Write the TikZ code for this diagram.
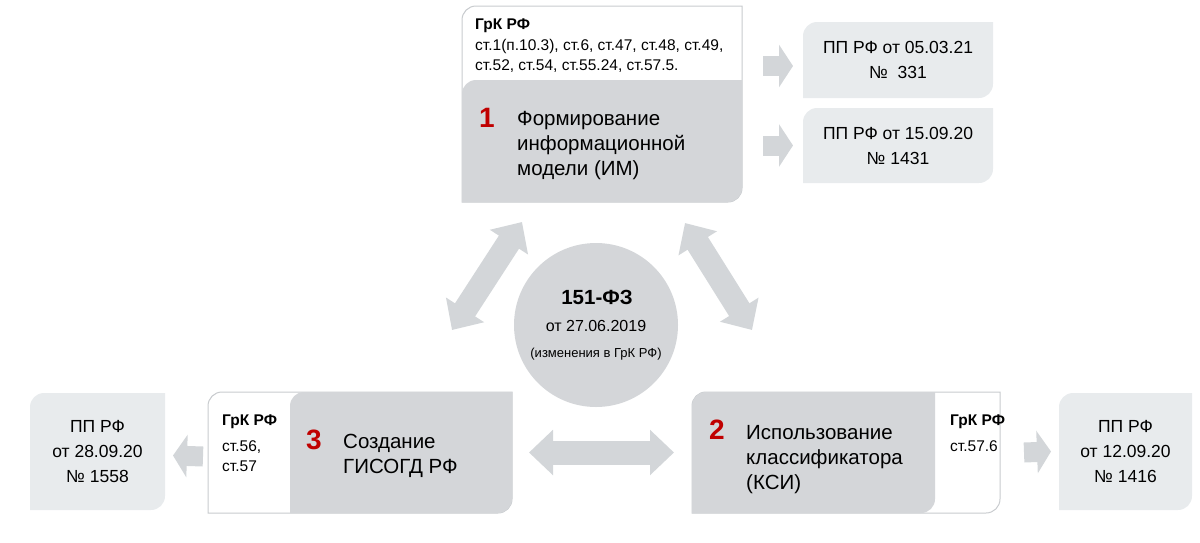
\documentclass[tikz,border=0pt]{standalone}
\usepackage{fontspec}
\setmainfont{Liberation Sans}
\usetikzlibrary{arrows.meta,backgrounds}

\definecolor{boxgray}{RGB}{212,214,217}
\definecolor{ppgray}{RGB}{232,235,237}
\definecolor{arrgray}{RGB}{211,214,217}
\definecolor{linegray}{RGB}{200,203,206}
\definecolor{numred}{RGB}{192,0,0}

% Kasten mit zwei runden Ecken (oben links, unten rechts)
\newcommand\leafbox[2]{%
	\path[#1] (#2.west) [rounded corners=14pt] -- (#2.north west) -- (#2.north)
	[sharp corners] -- (#2.north east) -- (#2.east)
	[rounded corners=14pt] -- (#2.south east) -- (#2.south)
	[sharp corners] -- (#2.south west) -- cycle;}

\begin{document}
\begin{tikzpicture}[x=1pt,y=-1pt,
	area/.style={inner sep=0pt,outer sep=0pt},
	big/.style={font=\fontsize{20.5}{25}\selectfont,align=left,inner sep=0pt},
	small/.style={font=\fontsize{15.5}{20}\selectfont,align=left,inner sep=0pt},
	pp/.style={font=\fontsize{17.5}{25}\selectfont,align=center},
	num/.style={font=\fontsize{28}{28}\selectfont\bfseries,text=numred,inner sep=0pt},
	blk/.style={draw=arrgray,line width=20pt,-{Triangle[length=14pt,width=42pt]}},
	dblk/.style={draw=arrgray,line width=24pt,{Triangle[length=24pt,width=44pt]}-{Triangle[length=24pt,width=44pt]}}]
	\useasboundingbox (0,0) rectangle (1200,542);
	% Block 1
	\node[area,minimum width=280pt,minimum height=196pt] (b1) at (602,104) {};
	\node[area,minimum width=280pt,minimum height=122pt] (b1g) at (602,141) {};
	\node[small,anchor=west] (b1grk) at (475,46) {\textbf{ГрК РФ}\\[1pt]ст.1(п.10.3), ст.6, ст.47, ст.48, ст.49,\\ст.52, ст.54, ст.55.24, ст.57.5.};
	\node[num] (n1) at (487,118) {1};
	\node[big,anchor=west] (b1t) at (517,146) {Формирование\\информационной\\модели (ИМ)};
	% Block 3
	\node[area,minimum width=304pt,minimum height=121pt] (b3) at (360,452.5) {};
	\node[area,minimum width=222pt,minimum height=121pt] (b3g) at (401,452.5) {};
	\node[small,anchor=west] (b3grk) at (222,443) {\textbf{ГрК РФ}\\[6pt]ст.56,\\ст.57};
	\node[num] (n3) at (314,440) {3};
	\node[big,anchor=west] (b3t) at (343,456) {Создание\\ГИСОГД РФ};
	% Block 2
	\node[area,minimum width=308pt,minimum height=121pt] (b2) at (846,452.5) {};
	\node[area,minimum width=243pt,minimum height=121pt] (b2g) at (813.5,452.5) {};
	\node[num] (n2) at (717,430) {2};
	\node[big,anchor=west] (b2t) at (746,460) {Использование\\классификатора\\(КСИ)};
	\node[small,anchor=west] (b2grk) at (950,433) {\textbf{ГрК РФ}\\[6pt]ст.57.6};
	% ПП РФ
	\node[area,pp,minimum width=190pt,minimum height=76pt] (ppA) at (898,60) {ПП РФ от 05.03.21\\№~~331};
	\node[area,pp,minimum width=190pt,minimum height=75pt] (ppB) at (898,145.5) {ПП РФ от 15.09.20\\№ 1431};
	\node[area,pp,minimum width=135pt,minimum height=117pt] (ppL) at (97.5,451.5) {ПП РФ\\от 28.09.20\\№ 1558};
	\node[area,pp,minimum width=133pt,minimum height=117pt] (ppR) at (1125.5,451.5) {ПП РФ\\от 12.09.20\\№ 1416};
	% 151-ФЗ
	\node[circle,fill=boxgray,minimum size=164pt,inner sep=0pt] (fz) at (596,325) {};
	\node[font=\bfseries\fontsize{20.5}{20}\selectfont] (fzt) at (597,297) {151-ФЗ};
	\node[font=\fontsize{16}{16}\selectfont] (fzd) at (596,326) {от 27.06.2019};
	\node[font=\fontsize{13}{13}\selectfont] (fzn) at (596,354) {(изменения в ГрК РФ)};
	% Pfeile
	\draw[blk] ([xshift=-40pt,yshift=-6pt]ppA.west) -- ([xshift=-10pt,yshift=-6pt]ppA.west);
	\draw[blk] ([xshift=-40pt]ppB.west) -- ([xshift=-10pt]ppB.west);
	\draw[blk] ([xshift=-5pt,yshift=-4pt]b3.west) -- ([xshift=8pt,yshift=-4pt]ppL.east);
	\draw[blk] ([xshift=24pt]b2.east) -- ([xshift=-8pt]ppR.west);
	\draw[dblk] ([xshift=17pt]b3.east) -- ([xshift=-18pt]b2.west);
	\coordinate (la) at (452,330);
	\coordinate (lb) at (522,222);
	\coordinate (ra) at (685,223);
	\coordinate (rb) at (752,330);
	\draw[dblk] (la) -- (lb);
	\draw[dblk] (ra) -- (rb);
	% Hintergrund
	\begin{scope}[on background layer]
		\leafbox{fill=white,draw=linegray,line width=1pt}{b1}
		\leafbox{fill=boxgray}{b1g}
		\leafbox{fill=white,draw=linegray,line width=1pt}{b3}
		\leafbox{fill=boxgray}{b3g}
		\leafbox{fill=white,draw=linegray,line width=1pt}{b2}
		\leafbox{fill=boxgray}{b2g}
		\foreach \p in {ppA,ppB,ppL,ppR}
		{\leafbox{fill=ppgray}{\p}}
	\end{scope}
\end{tikzpicture}
\end{document}
